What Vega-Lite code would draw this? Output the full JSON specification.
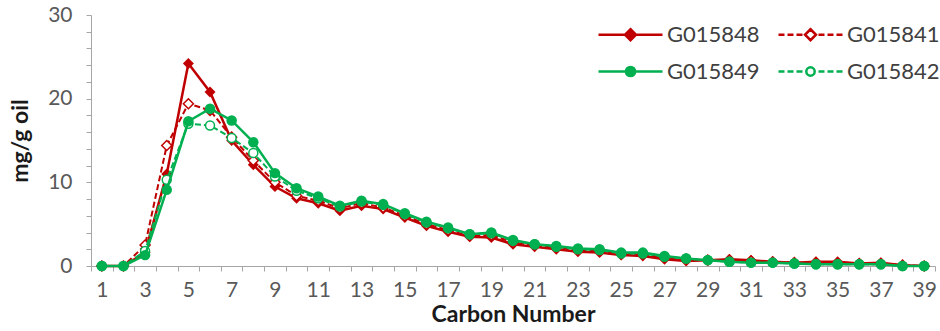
{
  "$schema": "https://vega.github.io/schema/vega-lite/v6.json",
  "width": 844,
  "height": 251,
  "autosize": {"type": "none"},
  "padding": {"left": 91, "top": 15, "right": 5, "bottom": 65},
  "background": "white",
  "config": {
    "view": {"stroke": null},
    "font": "Lato"
  },
  "datasets": {
    "d": [
      {"c":1,"s":"G015848","v":0},{"c":2,"s":"G015848","v":0},{"c":3,"s":"G015848","v":1.6},{"c":4,"s":"G015848","v":11.0},{"c":5,"s":"G015848","v":24.2},{"c":6,"s":"G015848","v":20.8},{"c":7,"s":"G015848","v":15.0},{"c":8,"s":"G015848","v":12.1},{"c":9,"s":"G015848","v":9.5},{"c":10,"s":"G015848","v":8.1},{"c":11,"s":"G015848","v":7.5},{"c":12,"s":"G015848","v":6.6},{"c":13,"s":"G015848","v":7.2},{"c":14,"s":"G015848","v":6.8},{"c":15,"s":"G015848","v":5.8},{"c":16,"s":"G015848","v":4.8},{"c":17,"s":"G015848","v":4.1},{"c":18,"s":"G015848","v":3.5},{"c":19,"s":"G015848","v":3.4},{"c":20,"s":"G015848","v":2.6},{"c":21,"s":"G015848","v":2.3},{"c":22,"s":"G015848","v":2.0},{"c":23,"s":"G015848","v":1.7},{"c":24,"s":"G015848","v":1.6},{"c":25,"s":"G015848","v":1.3},{"c":26,"s":"G015848","v":1.2},{"c":27,"s":"G015848","v":0.8},{"c":28,"s":"G015848","v":0.6},{"c":29,"s":"G015848","v":0.7},{"c":30,"s":"G015848","v":0.8},{"c":31,"s":"G015848","v":0.7},{"c":32,"s":"G015848","v":0.5},{"c":33,"s":"G015848","v":0.4},{"c":34,"s":"G015848","v":0.5},{"c":35,"s":"G015848","v":0.5},{"c":36,"s":"G015848","v":0.3},{"c":37,"s":"G015848","v":0.4},{"c":38,"s":"G015848","v":0.1},{"c":39,"s":"G015848","v":0.0},
      {"c":1,"s":"G015841","v":0},{"c":2,"s":"G015841","v":0},{"c":3,"s":"G015841","v":2.5},{"c":4,"s":"G015841","v":14.4},{"c":5,"s":"G015841","v":19.4},{"c":6,"s":"G015841","v":18.6},{"c":7,"s":"G015841","v":15.4},{"c":8,"s":"G015841","v":12.6},{"c":9,"s":"G015841","v":10.0},{"c":10,"s":"G015841","v":8.4},{"c":11,"s":"G015841","v":7.8},{"c":12,"s":"G015841","v":6.9},{"c":13,"s":"G015841","v":7.5},{"c":14,"s":"G015841","v":7.0},{"c":15,"s":"G015841","v":6.0},{"c":16,"s":"G015841","v":5.0},{"c":17,"s":"G015841","v":4.3},{"c":18,"s":"G015841","v":3.6},{"c":19,"s":"G015841","v":3.7},{"c":20,"s":"G015841","v":2.8},{"c":21,"s":"G015841","v":2.5},{"c":22,"s":"G015841","v":2.2},{"c":23,"s":"G015841","v":1.9},{"c":24,"s":"G015841","v":1.8},{"c":25,"s":"G015841","v":1.4},{"c":26,"s":"G015841","v":1.4},{"c":27,"s":"G015841","v":1.0},{"c":28,"s":"G015841","v":0.8},{"c":29,"s":"G015841","v":0.7},{"c":30,"s":"G015841","v":0.7},{"c":31,"s":"G015841","v":0.6},{"c":32,"s":"G015841","v":0.5},{"c":33,"s":"G015841","v":0.4},{"c":34,"s":"G015841","v":0.4},{"c":35,"s":"G015841","v":0.3},{"c":36,"s":"G015841","v":0.3},{"c":37,"s":"G015841","v":0.3},{"c":38,"s":"G015841","v":0.1},{"c":39,"s":"G015841","v":0.0},
      {"c":1,"s":"G015849","v":0},{"c":2,"s":"G015849","v":0},{"c":3,"s":"G015849","v":1.3},{"c":4,"s":"G015849","v":9.1},{"c":5,"s":"G015849","v":17.3},{"c":6,"s":"G015849","v":18.8},{"c":7,"s":"G015849","v":17.4},{"c":8,"s":"G015849","v":14.8},{"c":9,"s":"G015849","v":11.1},{"c":10,"s":"G015849","v":9.3},{"c":11,"s":"G015849","v":8.3},{"c":12,"s":"G015849","v":7.2},{"c":13,"s":"G015849","v":7.8},{"c":14,"s":"G015849","v":7.4},{"c":15,"s":"G015849","v":6.3},{"c":16,"s":"G015849","v":5.3},{"c":17,"s":"G015849","v":4.6},{"c":18,"s":"G015849","v":3.8},{"c":19,"s":"G015849","v":4.0},{"c":20,"s":"G015849","v":3.1},{"c":21,"s":"G015849","v":2.6},{"c":22,"s":"G015849","v":2.4},{"c":23,"s":"G015849","v":2.1},{"c":24,"s":"G015849","v":2.0},{"c":25,"s":"G015849","v":1.6},{"c":26,"s":"G015849","v":1.6},{"c":27,"s":"G015849","v":1.2},{"c":28,"s":"G015849","v":0.9},{"c":29,"s":"G015849","v":0.7},{"c":30,"s":"G015849","v":0.5},{"c":31,"s":"G015849","v":0.4},{"c":32,"s":"G015849","v":0.4},{"c":33,"s":"G015849","v":0.3},{"c":34,"s":"G015849","v":0.2},{"c":35,"s":"G015849","v":0.2},{"c":36,"s":"G015849","v":0.2},{"c":37,"s":"G015849","v":0.2},{"c":38,"s":"G015849","v":0.0},{"c":39,"s":"G015849","v":0.0},
      {"c":1,"s":"G015842","v":0},{"c":2,"s":"G015842","v":0},{"c":3,"s":"G015842","v":1.8},{"c":4,"s":"G015842","v":10.3},{"c":5,"s":"G015842","v":17.0},{"c":6,"s":"G015842","v":16.8},{"c":7,"s":"G015842","v":15.3},{"c":8,"s":"G015842","v":13.5},{"c":9,"s":"G015842","v":10.7},{"c":10,"s":"G015842","v":9.0},{"c":11,"s":"G015842","v":8.1},{"c":12,"s":"G015842","v":7.1},{"c":13,"s":"G015842","v":7.7},{"c":14,"s":"G015842","v":7.3},{"c":15,"s":"G015842","v":6.2},{"c":16,"s":"G015842","v":5.2},{"c":17,"s":"G015842","v":4.5},{"c":18,"s":"G015842","v":3.8},{"c":19,"s":"G015842","v":3.9},{"c":20,"s":"G015842","v":3.0},{"c":21,"s":"G015842","v":2.6},{"c":22,"s":"G015842","v":2.3},{"c":23,"s":"G015842","v":2.0},{"c":24,"s":"G015842","v":1.9},{"c":25,"s":"G015842","v":1.5},{"c":26,"s":"G015842","v":1.5},{"c":27,"s":"G015842","v":1.1},{"c":28,"s":"G015842","v":0.9},{"c":29,"s":"G015842","v":0.7},{"c":30,"s":"G015842","v":0.5},{"c":31,"s":"G015842","v":0.4},{"c":32,"s":"G015842","v":0.4},{"c":33,"s":"G015842","v":0.3},{"c":34,"s":"G015842","v":0.2},{"c":35,"s":"G015842","v":0.2},{"c":36,"s":"G015842","v":0.2},{"c":37,"s":"G015842","v":0.2},{"c":38,"s":"G015842","v":0.0},{"c":39,"s":"G015842","v":0.0}
    ]
  },
  "data": {"name": "d"},
  "encoding": {
    "x": {
      "field": "c", "type": "quantitative",
      "scale": {"domain": [0.5, 39.5], "nice": false, "zero": false},
      "axis": {
        "title": "Carbon Number",
        "titleFont": "Lato", "titleFontSize": 23, "titleFontWeight": "bold", "titleColor": "#1a1a1a", "titlePadding": 3,
        "values": [0.5,1,1.5,2,2.5,3,3.5,4,4.5,5,5.5,6,6.5,7,7.5,8,8.5,9,9.5,10,10.5,11,11.5,12,12.5,13,13.5,14,14.5,15,15.5,16,16.5,17,17.5,18,18.5,19,19.5,20,20.5,21,21.5,22,22.5,23,23.5,24,24.5,25,25.5,26,26.5,27,27.5,28,28.5,29,29.5,30,30.5,31,31.5,32,32.5,33,33.5,34,34.5,35,35.5,36,36.5,37,37.5,38,38.5,39,39.5],
        "labelExpr": "datum.value % 2 == 1 ? '' + datum.value : ''",
        "labelOverlap": false, "labelFlush": false,
        "labelFont": "Lato", "labelFontSize": 21, "labelColor": "#595959", "labelPadding": 8,
        "tickOpacity": {"condition": {"test": "datum.value % 1 != 0", "value": 1}, "value": 0},
        "tickSize": 5, "tickColor": "#a6a6a6", "domainColor": "#a6a6a6", "domainWidth": 1, "tickWidth": 1,
        "grid": false
      }
    },
    "y": {
      "field": "v", "type": "quantitative",
      "scale": {"domain": [0, 30], "nice": false},
      "axis": {
        "title": "mg/g oil",
        "titleFont": "Lato", "titleFontSize": 23, "titleFontWeight": "bold", "titleColor": "#1a1a1a", "titlePadding": 15,
        "values": [0,2,4,6,8,10,12,14,16,18,20,22,24,26,28,30],
        "labelExpr": "datum.value % 10 == 0 ? datum.label : ''",
        "labelOverlap": false, "labelFlush": false,
        "labelFont": "Lato", "labelFontSize": 21, "labelColor": "#595959", "labelPadding": 14,
        "tickSize": 5, "tickColor": "#a6a6a6", "domainColor": "#a6a6a6", "domainWidth": 1, "tickWidth": 1,
        "grid": false
      }
    },
    "color": {
      "field": "s", "type": "nominal",
      "scale": {"domain": ["G015848", "G015849", "G015841", "G015842"], "range": ["#c00000", "#00b050", "#c00000", "#00b050"]},
      "legend": {
        "title": null, "orient": "none", "legendX": 528, "legendY": 8, "columns": 2, "padding": 0,
        "labelFont": "Lato", "labelFontSize": 22, "labelColor": "#404040", "labelOffset": 25,
        "symbolSize": 400, "symbolStrokeWidth": 2.5, "rowPadding": 14, "columnPadding": 13,
        "encode": {
          "symbols": {
            "update": {
              "shape": {"signal": "datum.value === 'G015848' ? 'M-3.2,0H3.2M0,-0.55L0.55,0L0,0.55L-0.55,0Z' : datum.value === 'G015841' ? 'M-3.2,0H-2.6M-2.3,0H-1.7M-1.4,0H-0.8M0.8,0H1.4M1.7,0H2.3M2.6,0H3.2M0,-0.55L0.55,0L0,0.55L-0.55,0ZM0,-0.55L-0.55,0L0,0.55L0.55,0Z' : datum.value === 'G015849' ? 'M-3.2,0H3.2M0.46,0A0.46,0.46 0 1,1 -0.46,0A0.46,0.46 0 1,1 0.46,0Z' : 'M-3.2,0H-2.6M-2.3,0H-1.7M-1.4,0H-0.8M0.8,0H1.4M1.7,0H2.3M2.6,0H3.2M0.42,0A0.42,0.42 0 1,1 -0.42,0A0.42,0.42 0 1,1 0.42,0ZM0.42,0A0.42,0.42 0 1,0 -0.42,0A0.42,0.42 0 1,0 0.42,0Z'"},
              "stroke": {"signal": "datum.value === 'G015848' || datum.value === 'G015841' ? '#c00000' : '#00b050'"},
              "strokeWidth": {"value": 2.5},
              "size": {"value": 400},
              "opacity": {"value": 1}
            }
          }
        }
      }
    }
  },
  "layer": [
    {
      "transform": [{"filter": "datum.s === 'G015848'"}],
      "mark": {"type": "line", "strokeWidth": 2.5, "point": {"shape": "diamond", "filled": true, "size": 120, "opacity": 1}}
    },
    {
      "transform": [{"filter": "datum.s === 'G015841'"}],
      "mark": {"type": "line", "strokeWidth": 2, "strokeDash": [6, 3], "point": {"shape": "diamond", "filled": false, "fill": "white", "size": 100, "strokeWidth": 1.5, "opacity": 1}}
    },
    {
      "transform": [{"filter": "datum.s === 'G015842'"}],
      "mark": {"type": "line", "strokeWidth": 2, "strokeDash": [6, 3], "point": {"shape": "circle", "filled": false, "fill": "white", "size": 80, "strokeWidth": 1.5, "opacity": 1}}
    },
    {
      "transform": [{"filter": "datum.s === 'G015849'"}],
      "mark": {"type": "line", "strokeWidth": 2.5, "point": {"shape": "circle", "filled": true, "size": 110, "opacity": 1}}
    }
  ]
}
